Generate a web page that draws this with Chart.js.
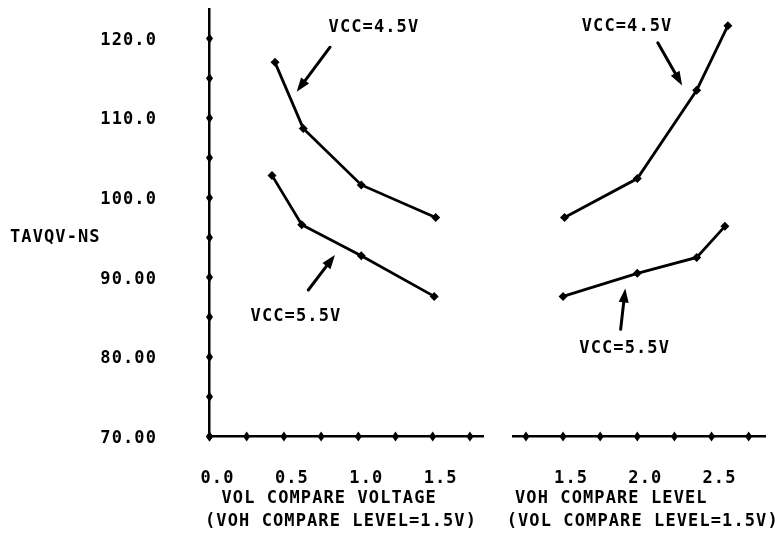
<!DOCTYPE html>
<html>
<head>
<meta charset="utf-8">
<title>TAVQV vs compare levels</title>
<script src="https://cdn.jsdelivr.net/npm/chart.js@4.4.1/dist/chart.umd.min.js"></script>
<style>
    html, body { margin: 0; padding: 0; background: #fff; }
    #wrap { position: relative; width: 782px; height: 543px; overflow: hidden; }
    canvas { position: absolute; top: 0; }
    #left { left: 0; }
    #right { left: 495px; }
</style>
</head>
<body>
<div id="wrap">
    <canvas id="left" width="495" height="543"></canvas>
    <canvas id="right" width="287" height="543"></canvas>
</div>
<script>
// Valores
const volX45 = [0.44, 0.63, 1.02, 1.52];
const volY45 = [117.0, 108.7, 101.6, 97.5];
const volX55 = [0.42, 0.62, 1.02, 1.51];
const volY55 = [102.8, 96.6, 92.7, 87.6];

const vohX45 = [1.51, 2.0, 2.4, 2.61];
const vohY45 = [97.5, 102.4, 113.5, 121.6];
const vohX55 = [1.5, 2.0, 2.4, 2.59];
const vohY55 = [87.6, 90.5, 92.5, 96.4];

// Etiquetas de los ejes
const yTickValues = [70, 80, 90, 100, 110, 120];
const yTickLabels = ['70.00', '80.00', '90.00', '100.0', '110.0', '120.0'];
const volTickValues = [0, 0.5, 1.0, 1.5];
const volTickLabels = ['0.0', '0.5', '1.0', '1.5'];
const vohTickValues = [1.5, 2.0, 2.5];
const vohTickLabels = ['1.5', '2.0', '2.5'];

// Textos
const yTitle = 'TAVQV-NS';
const volTitle = ['VOL COMPARE VOLTAGE', '(VOH COMPARE LEVEL=1.5V)'];
const vohTitle = ['VOH COMPARE LEVEL', '(VOL COMPARE LEVEL=1.5V)'];
const label45 = 'VCC=4.5V';
const label55 = 'VCC=5.5V';

const INK = '#000';
const FONT_FAMILY = '"DejaVu Sans Mono", monospace';
const FONT_SIZE = 17;
const FONT = 'bold ' + FONT_SIZE + 'px ' + FONT_FAMILY;
const SPACING = '1.1px';

function points(xs, ys) {
    return xs.map((x, i) => ({ x: x, y: ys[i] }));
}

function series(xs, ys) {
    return {
        data: points(xs, ys),
        borderColor: INK,
        backgroundColor: INK,
        borderWidth: 2.8,
        pointStyle: 'rectRot',
        pointRadius: 4.5,
        pointBorderWidth: 0,
        tension: 0
    };
}

function labelFrom(values, labels) {
    return value => {
        const i = values.findIndex(v => Math.abs(v - value) < 1e-6);
        return i >= 0 ? labels[i] : '';
    };
}

function diamond(ctx, x, y, hw, hh) {
    ctx.beginPath();
    ctx.moveTo(x, y - hh);
    ctx.lineTo(x + hw, y);
    ctx.lineTo(x, y + hh);
    ctx.lineTo(x - hw, y);
    ctx.closePath();
    ctx.fill();
}

function arrow(ctx, x1, y1, x2, y2) {
    const ang = Math.atan2(y2 - y1, x2 - x1);
    const len = 14, half = 5;
    const bx = x2 - len * Math.cos(ang), by = y2 - len * Math.sin(ang);
    ctx.lineWidth = 3;
    ctx.lineCap = 'round';
    ctx.beginPath();
    ctx.moveTo(x1, y1);
    ctx.lineTo(bx, by);
    ctx.stroke();
    ctx.beginPath();
    ctx.moveTo(x2, y2);
    ctx.lineTo(bx + half * Math.sin(ang), by - half * Math.cos(ang));
    ctx.lineTo(bx - half * Math.sin(ang), by + half * Math.cos(ang));
    ctx.closePath();
    ctx.fill();
}

// Plugin: marcas de eje tipo plotter, títulos y anotaciones
const plotterText = {
    id: 'plotterText',
    beforeDraw(chart) {
        chart.ctx.letterSpacing = SPACING;
    },
    afterDraw(chart, args, opts) {
        const { ctx, chartArea } = chart;
        const xs = chart.scales.x, ys = chart.scales.y;
        ctx.save();
        ctx.fillStyle = INK;
        ctx.strokeStyle = INK;
        ctx.font = FONT;
        ctx.letterSpacing = SPACING;

        // diamantes sobre los ejes
        xs.ticks.forEach(t => diamond(ctx, xs.getPixelForValue(t.value), chartArea.bottom, 3.5, 5));
        if (ys.options.display) {
            ys.ticks.forEach(t => diamond(ctx, chartArea.left, ys.getPixelForValue(t.value), 3.5, 5));
        }

        // título del eje x (dos líneas)
        ctx.textAlign = 'left';
        ctx.textBaseline = 'middle';
        opts.title.forEach((line, i) => {
            ctx.fillText(line, chartArea.left + opts.titleDx[i], chartArea.bottom + opts.titleDy[i]);
        });

        // título del eje y (horizontal)
        if (opts.yTitle) {
            ctx.fillText(opts.yTitle, 10, ys.getPixelForValue(opts.yTitleAt));
        }

        // anotaciones
        ctx.textAlign = 'center';
        opts.notes.forEach(n => {
            ctx.fillText(n.text, xs.getPixelForValue(n.x), ys.getPixelForValue(n.y));
        });
        opts.arrows.forEach(a => {
            arrow(ctx,
                xs.getPixelForValue(a.from[0]), ys.getPixelForValue(a.from[1]),
                xs.getPixelForValue(a.to[0]), ys.getPixelForValue(a.to[1]));
        });
        ctx.restore();
    }
};

function makeChart(canvasId, cfg) {
    return new Chart(document.getElementById(canvasId), {
        type: 'line',
        data: { datasets: cfg.datasets },
        plugins: [plotterText],
        options: {
            responsive: false,
            animation: false,
            events: [],
            layout: { padding: cfg.padding },
            plugins: {
                legend: { display: false },
                tooltip: { enabled: false },
                plotterText: cfg.text
            },
            scales: {
                x: {
                    type: 'linear',
                    min: cfg.xMin,
                    max: cfg.xMax,
                    grid: { display: false },
                    border: { display: true, color: INK, width: 2.5 },
                    ticks: {
                        stepSize: 0.25,
                        includeBounds: false,
                        autoSkip: false,
                        maxRotation: 0,
                        padding: 24,
                        labelOffset: 8,
                        color: INK,
                        font: { family: FONT_FAMILY, size: FONT_SIZE, weight: 'bold' },
                        callback: labelFrom(cfg.xTickValues, cfg.xTickLabels)
                    },
                    afterFit(s) {
                        s.height = 106.5;
                        s.paddingLeft = 0;
                        s.paddingRight = 0;
                    }
                },
                y: {
                    type: 'linear',
                    display: cfg.showY,
                    min: 70,
                    max: 123.7,
                    grid: { display: false },
                    border: { display: true, color: INK, width: 2.5 },
                    ticks: {
                        stepSize: 5,
                        includeBounds: false,
                        autoSkip: false,
                        padding: 44.5,
                        labelOffset: 2,
                        color: INK,
                        font: { family: FONT_FAMILY, size: FONT_SIZE, weight: 'bold' },
                        callback: labelFrom(yTickValues, yTickLabels)
                    },
                    afterFit(s) {
                        if (!s.options.display) return;
                        s.width = 209.5;
                        s.paddingTop = 0;
                        s.paddingBottom = 0;
                    }
                }
            }
        }
    });
}

// Panel izquierdo: VOL
makeChart('left', {
    datasets: [series(volX45, volY45), series(volX55, volY55)],
    padding: { left: 0, right: 11.7, top: 9, bottom: 0 },
    xMin: 0,
    xMax: 1.84,
    xTickValues: volTickValues,
    xTickLabels: volTickLabels,
    showY: true,
    text: {
        title: volTitle,
        titleDx: [12, -4.5],
        titleDy: [62, 85.5],
        yTitle: yTitle,
        yTitleAt: 95,
        notes: [
            { text: label45, x: 1.105, y: 121.4 },
            { text: label55, x: 0.581, y: 85.1 }
        ],
        arrows: [
            { from: [0.81, 118.9], to: [0.586, 113.3] },
            { from: [0.664, 88.4], to: [0.843, 92.8] }
        ]
    }
});

// Panel derecho: VOH
makeChart('right', {
    datasets: [series(vohX45, vohY45), series(vohX55, vohY55)],
    padding: { left: 18.3, right: 17, top: 9, bottom: 0 },
    xMin: 1.165,
    xMax: 2.86,
    xTickValues: vohTickValues,
    xTickLabels: vohTickLabels,
    showY: false,
    text: {
        title: vohTitle,
        titleDx: [1.7, -6.6],
        titleDy: [62, 85.5],
        yTitle: null,
        notes: [
            { text: label45, x: 1.931, y: 121.5 },
            { text: label55, x: 1.915, y: 81.0 }
        ],
        arrows: [
            { from: [2.138, 119.45], to: [2.302, 114.1] },
            { from: [1.888, 83.46], to: [1.919, 88.6] }
        ]
    }
});
</script>
</body>
</html>
